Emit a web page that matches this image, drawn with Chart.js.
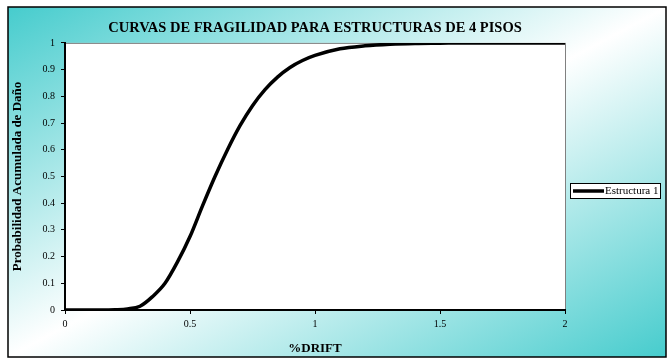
<!DOCTYPE html>
<html>
<head>
<meta charset="utf-8">
<script src="https://cdn.jsdelivr.net/npm/chart.js@4.4.1/dist/chart.umd.min.js"></script>
<style>
  html, body { margin: 0; padding: 0; background: #fff; }
  #wrap { width: 672px; height: 363px; }
</style>
</head>
<body>
<div id="wrap"><canvas id="grafico"></canvas></div>
<script>
// datos
const drift = [0, 0.05, 0.1, 0.15, 0.2, 0.25, 0.3, 0.35, 0.4, 0.45, 0.5, 0.55, 0.6, 0.65, 0.7, 0.75, 0.8, 0.85, 0.9, 0.95, 1.0, 1.1, 1.2, 1.3, 1.4, 1.5, 1.6, 1.7, 1.8, 1.9, 2.0];
const probabilidad = [0, 0, 0, 0, 0.001, 0.004, 0.014, 0.05, 0.1, 0.18, 0.275, 0.39, 0.5, 0.6, 0.69, 0.765, 0.825, 0.872, 0.908, 0.934, 0.953, 0.978, 0.989, 0.995, 0.998, 0.999, 1, 1, 1, 1, 1];
const xTicks = [0, 0.5, 1, 1.5, 2];
const yTicks = [0, 0.1, 0.2, 0.3, 0.4, 0.5, 0.6, 0.7, 0.8, 0.9, 1];

const serif = "'Liberation Serif', 'Times New Roman', serif";

// fondo degradado, marco y area de trazado
const fondo = {
    id: "fondo",
    beforeDraw(chart) {
        const { ctx, chartArea: a } = chart;
        ctx.save();
        const g = ctx.createLinearGradient(8, 7, 298, 553);
        g.addColorStop(0, "#46cccd");
        g.addColorStop(0.5, "#ffffff");
        g.addColorStop(1, "#46cccd");
        ctx.fillStyle = g;
        ctx.fillRect(8, 7, 658, 350);
        ctx.strokeStyle = "#000";
        ctx.lineWidth = 1.5;
        ctx.strokeRect(8, 7, 658, 350);
        ctx.fillStyle = "#fff";
        ctx.fillRect(a.left, a.top, a.right - a.left, a.bottom - a.top);
        ctx.strokeStyle = "#808080";
        ctx.lineWidth = 1;
        ctx.strokeRect(a.left + 0.5, a.top + 0.5, a.right - a.left, a.bottom - a.top);
        ctx.restore();
    }
};

// leyenda con recuadro
const leyenda = {
    id: "leyenda",
    afterDraw(chart) {
        const { ctx } = chart;
        const ds = chart.data.datasets[0];
        ctx.save();
        ctx.fillStyle = "#fff";
        ctx.fillRect(570, 183, 91, 16);
        ctx.strokeStyle = "#000";
        ctx.lineWidth = 1;
        ctx.strokeRect(570.5, 183.5, 90, 15);
        ctx.strokeStyle = ds.borderColor;
        ctx.lineWidth = ds.borderWidth;
        ctx.beginPath();
        ctx.moveTo(573, 191);
        ctx.lineTo(604, 191);
        ctx.stroke();
        ctx.fillStyle = "#000";
        ctx.font = "11px " + serif;
        ctx.textBaseline = "middle";
        ctx.fillText(ds.label, 605, 191.5);
        ctx.restore();
    }
};

new Chart(document.getElementById("grafico"), {
    type: "line",
    data: {
        datasets: [{
            label: "Estructura 1",
            data: drift.map((x, i) => ({ x: x, y: probabilidad[i] })),
            borderColor: "#000",
            borderWidth: 3.5,
            pointRadius: 0,
            cubicInterpolationMode: "monotone",
            fill: false
        }]
    },
    options: {
        responsive: true,
        maintainAspectRatio: false,
        animation: false,
        layout: { padding: { left: 8, right: 107, top: 7, bottom: 7 } },
        plugins: {
            legend: { display: false },
            tooltip: { enabled: false },
            title: {
                display: true,
                text: "CURVAS DE FRAGILIDAD PARA ESTRUCTURAS DE 4 PISOS",
                color: "#000",
                fullSize: false,
                font: { family: serif, size: 14.5, weight: "bold" },
                padding: { top: 13, bottom: 5.5 }
            }
        },
        scales: {
            x: {
                type: "linear",
                min: 0,
                max: 2,
                afterFit: (s) => { s.height = 46; },
                afterBuildTicks: (s) => { s.ticks = xTicks.map(v => ({ value: v })); },
                ticks: { color: "#000", padding: 4, maxRotation: 0, font: { family: serif, size: 10 }, callback: (v) => String(v) },
                grid: { drawOnChartArea: false, drawTicks: true, tickLength: 4, color: "#000" },
                border: { display: true, color: "#000", width: 2 },
                title: {
                    display: true,
                    text: "%DRIFT",
                    color: "#000",
                    font: { family: serif, size: 13, weight: "bold" },
                    padding: { top: 0, bottom: 0 }
                }
            },
            y: {
                min: 0,
                max: 1,
                afterFit: (s) => { s.width = 57; },
                afterBuildTicks: (s) => { s.ticks = yTicks.map(v => ({ value: v })); },
                ticks: { color: "#000", padding: 6, font: { family: serif, size: 10 }, callback: (v) => String(v) },
                grid: { drawOnChartArea: false, drawTicks: true, tickLength: 4, color: "#000" },
                border: { display: true, color: "#000", width: 2 },
                title: {
                    display: true,
                    text: "Probabilidad Acumulada de Daño",
                    color: "#000",
                    font: { family: serif, size: 13, weight: "bold" },
                    padding: { top: 2, bottom: 0 }
                }
            }
        }
    },
    plugins: [fondo, leyenda]
});
</script>
</body>
</html>
